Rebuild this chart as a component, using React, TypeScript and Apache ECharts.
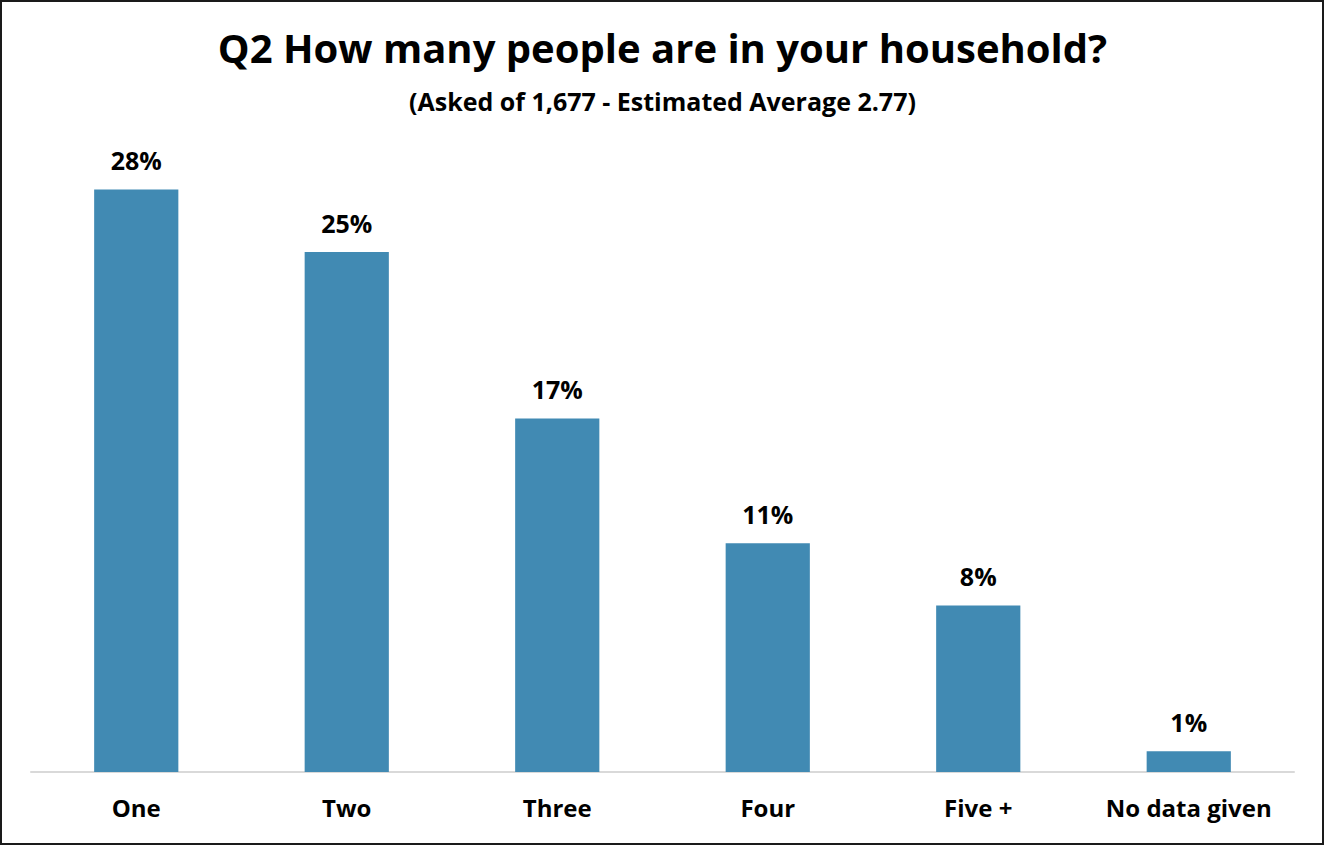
import React, { useEffect, useRef } from "react";
import * as echarts from "echarts";

const categories = ["One", "Two", "Three", "Four", "Five +", "No data given"];
const values = [28, 25, 17, 11, 8, 1];
const titleText = "Q2 How many people are in your household?";
const subtitleText = "(Asked of 1,677 - Estimated Average 2.77)";

const FONT = "Open Sans";

export default function App() {
  const ref = useRef<HTMLDivElement>(null);
  useEffect(() => {
    const chart = echarts.init(ref.current!, null, { renderer: "svg" });
    chart.setOption({
      animation: false,
      backgroundColor: "#ffffff",
      title: [
        {
          text: titleText,
          left: "center",
          top: 22,
          textStyle: { fontFamily: FONT, fontSize: 40, fontWeight: "bold", color: "#000" },
        },
        {
          text: subtitleText,
          left: "center",
          top: 83,
          textStyle: { fontFamily: FONT, fontSize: 25, fontWeight: "bold", color: "#000" },
        },
      ],
      graphic: [
        {
          type: "rect",
          shape: { x: 1, y: 1, width: 1322, height: 843 },
          style: { fill: "none", stroke: "#1a1a1a", lineWidth: 2 },
          silent: true,
        },
      ],
      grid: { left: 31, right: 31, top: 148, bottom: 74, containLabel: false },
      xAxis: {
        type: "category",
        data: categories,
        axisLine: { show: true, lineStyle: { color: "#d9d9d9", width: 2 } },
        axisTick: { show: false },
        axisLabel: {
          interval: 0,
          fontFamily: FONT,
          fontSize: 24,
          fontWeight: "bold",
          color: "#000",
          margin: 23,
        },
      },
      yAxis: {
        type: "value",
        min: 0,
        max: 30,
        show: false,
        splitLine: { show: false },
      },
      series: [
        {
          type: "bar",
          data: values,
          barWidth: "40%",
          itemStyle: { color: "#418AB3" },
          label: {
            show: true,
            position: "top",
            distance: 17,
            formatter: "{c}%",
            fontFamily: FONT,
            fontSize: 25,
            fontWeight: "bold",
            color: "#000",
          },
        },
      ],
    });
    return () => chart.dispose();
  }, []);
  return (
    <div
      ref={ref}
      style={{ position: "fixed", left: 0, top: 0, width: 1325, height: 846 }}
    />
  );
}
